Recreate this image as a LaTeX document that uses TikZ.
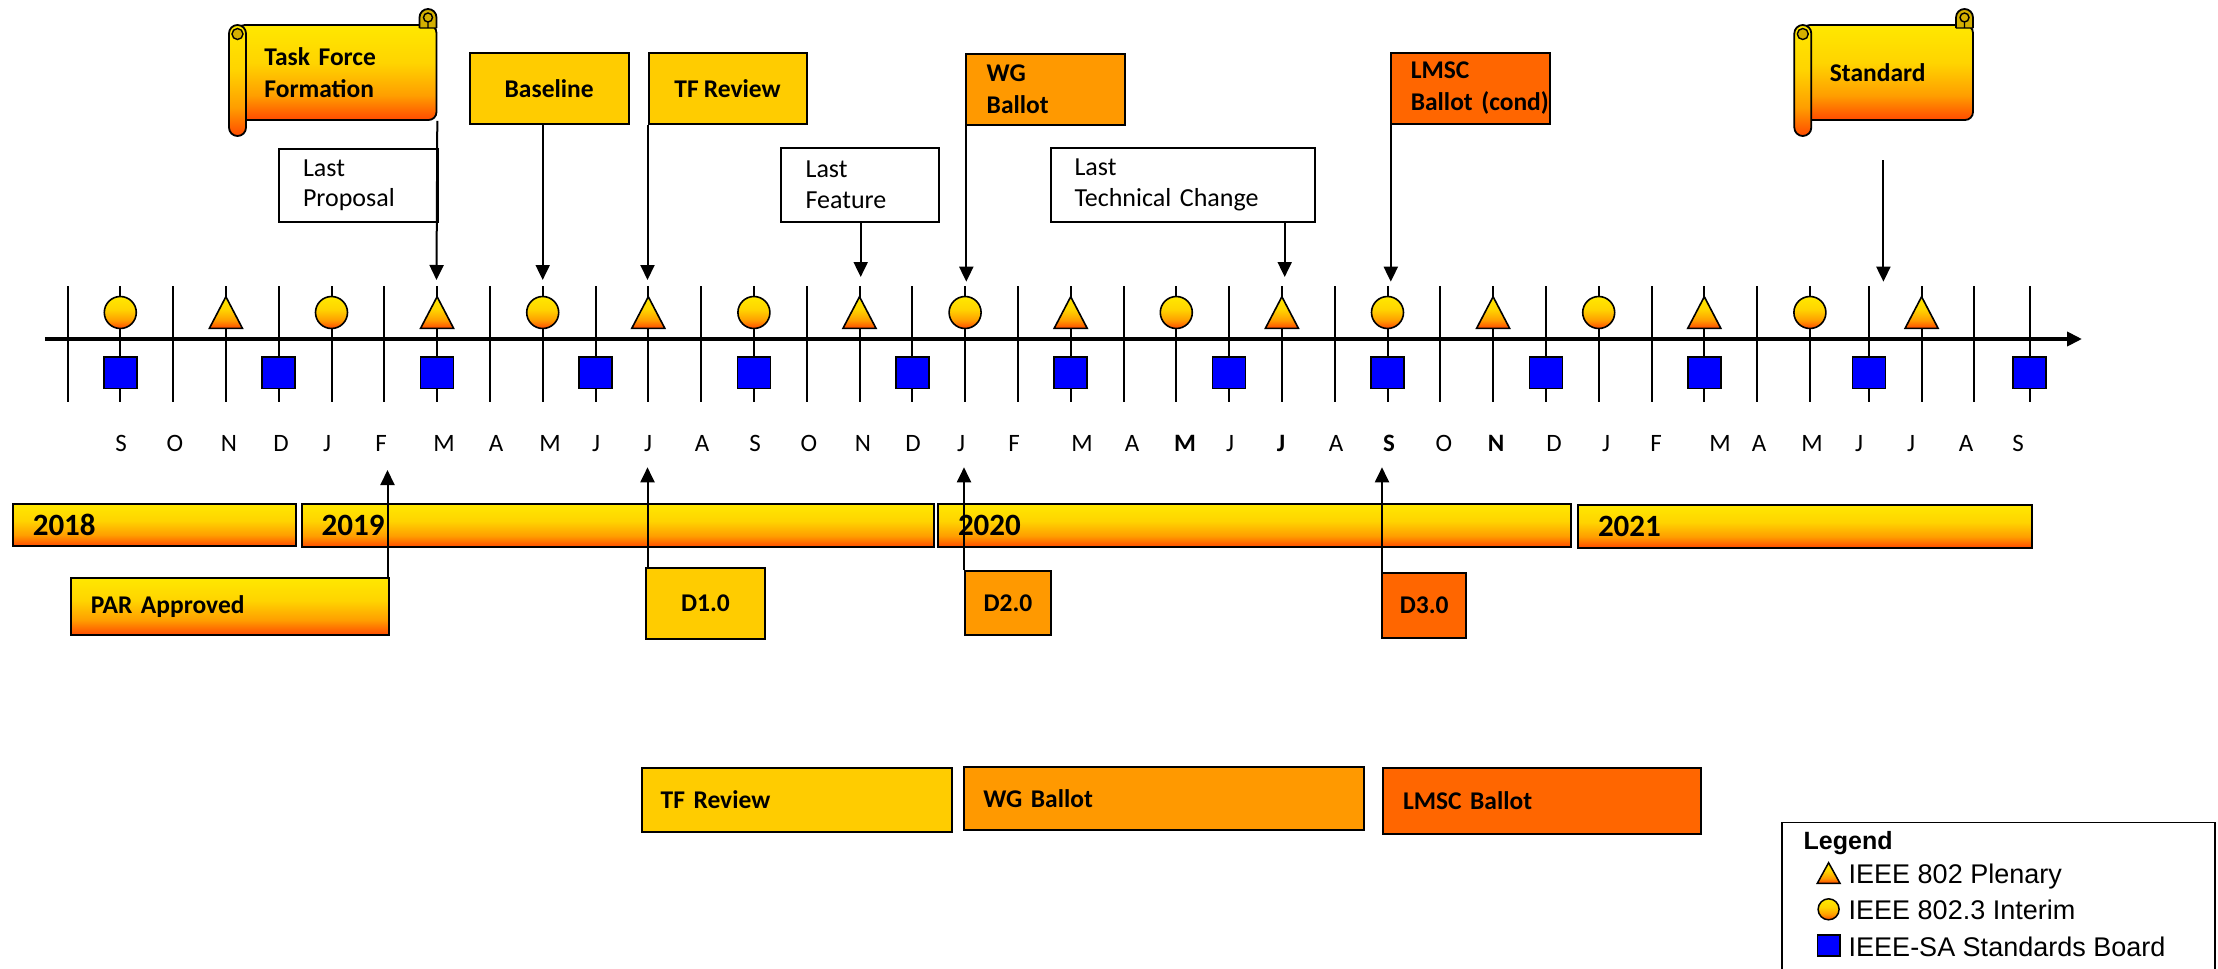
\documentclass[tikz,border=0pt]{standalone}
\usepackage{fontspec}
\setmainfont{Carlito}
\newfontfamily\legfont{Liberation Sans}
\usetikzlibrary{arrows.meta,calc}
\definecolor{gold}{HTML}{FFCC00}
\definecolor{orA}{HTML}{FF9900}
\definecolor{orB}{HTML}{FF6600}
\definecolor{sqblue}{HTML}{0000FF}
\definecolor{shB}{HTML}{FF4A00}
\definecolor{shM}{HTML}{FF9E00}
\definecolor{shYb}{HTML}{FFD400}
\definecolor{shY}{HTML}{FFE800}
\definecolor{curl}{HTML}{D4B000}
\pgfdeclareverticalshading{yo}{100bp}{color(0bp)=(shB); color(25bp)=(shB); color(38bp)=(shM); color(55bp)=(shYb); color(75bp)=(shY); color(100bp)=(shY)}
\newcommand\fntlab{\fontsize{12.75pt}{15.8pt}\selectfont\bfseries\spaceskip=0.2em}
\newcommand\fntnote{\fontsize{13pt}{15.4pt}\selectfont\spaceskip=0.2em}
\newcommand\fntyear{\fontsize{15.5pt}{18pt}\selectfont\bfseries}
\newcommand\fntmon{\fontsize{12.5pt}{15pt}\selectfont}
\newcommand\fntleg{\legfont\fontsize{13.5pt}{16pt}\selectfont}
\newcommand\drawscroll[2]{%
  \shadedraw[shading=yo, line width=0.9pt, rounded corners=4pt] (#1+8,25) rectangle (#2,120);
  \filldraw[fill=curl, line width=0.9pt] (#2-17,28) -- (#2-17,17.5) arc[start angle=180, end angle=360, radius=8.5] -- (#2,28);
  \draw[line width=0.7pt] (#2-8.5,17.5) circle[radius=4.5] (#2-8.5,22) -- (#2-8.5,28) (#2-17,28) -- (#2,28);
  \shadedraw[shading=yo, line width=0.9pt, rounded corners=4.25pt] (#1,25) rectangle (#1+17,136);
  \filldraw[fill=curl, line width=0.7pt] (#1+8.5,34) circle[radius=5.5];
}
\tikzset{
  box/.style={draw=black, line width=1pt, inner ysep=0pt, anchor=north west, font=\fntlab},
  note/.style={draw=black, line width=1pt, fill=white, inner ysep=0pt, anchor=north west, font=\fntnote},
  lt/.style 2 args={inner xsep=#1, text width=#2, align=left},
  wh/.style 2 args={minimum width=#1, minimum height=#2},
  arr/.style={line width=1pt, -{Triangle[length=7.5pt,width=7pt]}},
  tickline/.style={line width=1pt},
  mk/.style={line width=0.8pt},
}
\begin{document}
\begin{tikzpicture}[x=0.5pt,y=-0.5pt]
\useasboundingbox (0,0) rectangle (2218,969);

% ticks
\foreach \k/\x in {0/67.5,1/120.3,2/173.1,3/225.9,4/278.7,5/331.5,6/384.3,7/437.1,8/489.9,9/542.7,10/595.5,11/648.3,12/701.1,13/753.9,14/806.7,15/859.5,16/912.3,17/965.1,18/1017.9,19/1070.7,20/1123.5,21/1176.3,22/1229.1,23/1281.9,24/1334.7,25/1387.5,26/1440.3,27/1493.1,28/1545.9,29/1598.7,30/1651.5,31/1704.3,32/1757.1,33/1809.9,34/1869,35/1921.6,36/1974.3,37/2029.6}{
  \coordinate (t\k) at (\x,339);
  \draw[tickline] (\x,286) -- (\x,402);
}
% axis
\coordinate (ax0) at (44.8,339);
\coordinate (ax1) at (2082,339);
\draw[line width=2.35pt, -{Triangle[length=7.5pt,width=7pt]}] (ax0) -- (ax1);

% markers
\foreach \k in {1,5,9,13,17,21,25,29,33}{
  \node[circle, draw, mk, shade, shading=yo, minimum size=16pt, inner sep=0pt] (ci\k) at ($(t\k)+(0,-26.5)$) {};
}
\foreach \k in {3,7,11,15,19,23,27,31,35}{
  \shadedraw[shading=yo, mk] ($(t\k)+(0,-42.3)$) -- ($(t\k)+(16.5,-10.7)$) -- ($(t\k)+(-16.5,-10.7)$) -- cycle;
}
\foreach \k in {1,4,7,10,13,16,19,22,25,28,31,34,37}{
  \node[rectangle, draw, mk, fill=sqblue, minimum width=16.5pt, minimum height=15.8pt, inner sep=0pt] (sq\k) at ($(t\k)+(0,33.5)$) {};
}

% month labels
\foreach \x/\m [count=\i] in {121/S,175/O,229/N,281/D,327/J,381/F,444/M,496/A,550/M,596/J,648/J,702/A,755/S,809/O,863/N,913/D,961/J,1014/F,1082/M,1132/A,1185/\textbf{M},1230/J,1281/\textbf{J},1336/A,1389/\textbf{S},1444/O,1496/\textbf{N},1554/D,1606/J,1656/F,1720/M,1759/A,1812/M,1859/J,1911/J,1966/A,2018/S}{
  \node[font=\fntmon, anchor=base, inner sep=0pt] (m\i) at (\x,451) {\m};
}

% scrolls
\drawscroll{229}{436.5}
\node[anchor=north west, wh={103.75pt}{47.5pt}, lt={17.5pt}{68.75pt}, inner ysep=0pt, font=\fntlab] (tff) at (229,25) {Task Force\\Formation};
\drawscroll{1794.3}{1973}
\node[anchor=north west, wh={89.35pt}{47.5pt}, lt={17.6pt}{54.15pt}, inner ysep=0pt, font=\fntlab] (std) at (1794.3,25) {Standard};

% top boxes
\node[box, fill=gold, wh={79.55pt}{35.8pt}, align=center] (bl) at (468.6,51.7) {Baseline};
\node[box, fill=gold, wh={79.05pt}{35.8pt}, align=center] (tfr) at (647.5,51.7) {TF Review};
\node[box, fill=orA, wh={79.35pt}{35.65pt}, lt={10.2pt}{58.95pt}] (wg) at (965.3,52.7) {WG\\Ballot};
\node[box, fill=orB, wh={79.6pt}{35.5pt}, lt={10pt}{59.6pt}] (lmsc) at (1389.8,51.7) {LMSC\\\mbox{Ballot (cond)}};

% note boxes
\node[note, wh={79.05pt}{36.65pt}, lt={11.8pt}{55.45pt}] (lp) at (278.4,147.7) {Last\\Proposal};
\node[note, wh={79.15pt}{36.7pt}, lt={12.3pt}{54.55pt}] (lf) at (780,147.3) {Last\\Feature};
\node[note, wh={132.15pt}{36.7pt}, lt={12pt}{108.15pt}] (ltc) at (1049.5,147.3) {Last\\Technical Change};

% downward arrows
\coordinate (a1) at (436.5,280);
\coordinate (a2) at (542.7,280);
\coordinate (a3) at (647.5,280);
\coordinate (a4) at (860.7,277);
\coordinate (a5) at (966.3,281.7);
\coordinate (a6) at (1284.7,277);
\coordinate (a7) at (1390.8,281.7);
\coordinate (s0) at (1883.4,160);
\coordinate (a8) at (1883.4,281.7);
\draw[arr] (tff.south east) -- (a1);
\draw[arr] (bl.south -| a2) -- (a2);
\draw[arr] (tfr.south west) -- (a3);
\draw[arr] (lf.south -| a4) -- (a4);
\draw[arr] (wg.south -| a5) -- (a5);
\draw[arr] (ltc.south -| a6) -- (a6);
\draw[arr] (lmsc.south -| a7) -- (a7);
\draw[arr] (s0) -- (a8);

% year bars
\node[box, shade, shading=yo, font=\fntyear, wh={141.6pt}{21.15pt}, lt={10pt}{121.6pt}] (y18) at (11.8,502.7) {2018};
\node[box, shade, shading=yo, font=\fntyear, wh={316.2pt}{21.65pt}, lt={10pt}{296.2pt}] (y19) at (300.6,502.7) {2019};
\node[box, shade, shading=yo, font=\fntyear, wh={316.25pt}{21.65pt}, lt={10pt}{296.25pt}] (y20) at (937,502.7) {2020};
\node[box, shade, shading=yo, font=\fntyear, wh={227pt}{21.35pt}, lt={10pt}{207pt}] (y21) at (1577,504) {2021};

% drafts and PAR
\node[box, shade, shading=yo, wh={159.1pt}{28.65pt}, lt={10pt}{139.1pt}] (par) at (69.8,576.7) {PAR Approved};
\node[box, fill=gold, wh={59.4pt}{35.5pt}, align=center] (d1) at (645,566.7) {D1.0};
\node[box, fill=orA, wh={42.6pt}{32.15pt}, align=center] (d2) at (964.3,570) {D2.0};
\node[box, fill=orB, wh={42.15pt}{32.2pt}, align=center] (d3) at (1381,572.3) {D3.0};

\coordinate (u1) at (387.5,470);
\coordinate (u2) at (647.5,467.3);
\coordinate (u3) at (964,467.3);
\coordinate (u4) at (1382,467.3);
\draw[arr] (par.north -| u1) -- (u1);
\draw[arr] (d1.north -| u2) -- (u2);
\draw[arr] (d2.north -| u3) -- (u3);
\draw[arr] (d3.north -| u4) -- (u4);

% bottom phases
\node[box, fill=gold, wh={155.05pt}{32pt}, lt={9.5pt}{136.05pt}] (btf) at (640.7,766.7) {TF Review};
\node[box, fill=orA, wh={199.6pt}{31.35pt}, lt={9.5pt}{180.6pt}] (bwg) at (963.4,766) {WG Ballot};
\node[box, fill=orB, wh={159pt}{33pt}, lt={10pt}{139pt}] (blm) at (1382,766.7) {LMSC Ballot};

% legend
\draw[line width=0.75pt] (1782,969) -- (1782,822.7) -- (2215,822.7) -- (2215,969);
\node[anchor=base west, inner sep=0pt, font=\legfont\fontsize{12.5pt}{15pt}\selectfont\bfseries] (legt) at (1803.3,849.3) {Legend};
\shadedraw[shading=yo, line width=0.75pt] (1828.6,862.7) -- (1840,883.3) -- (1817.3,883.3) -- cycle;
\node[anchor=base west, inner sep=0pt, font=\fntleg] (leg1) at (1848.3,883.3) {IEEE 802 Plenary};
\shadedraw[shading=yo, line width=0.75pt] (1828.6,909.3) circle[radius=10.5];
\node[anchor=base west, inner sep=0pt, font=\fntleg] (leg2) at (1848.3,919.3) {IEEE 802.3 Interim};
\filldraw[fill=sqblue, line width=0.75pt] (1817.3,935) rectangle (1840,956);
\node[anchor=base west, inner sep=0pt, font=\fntleg] (leg3) at (1848.3,956) {IEEE-SA Standards Board};
\end{tikzpicture}
\end{document}
